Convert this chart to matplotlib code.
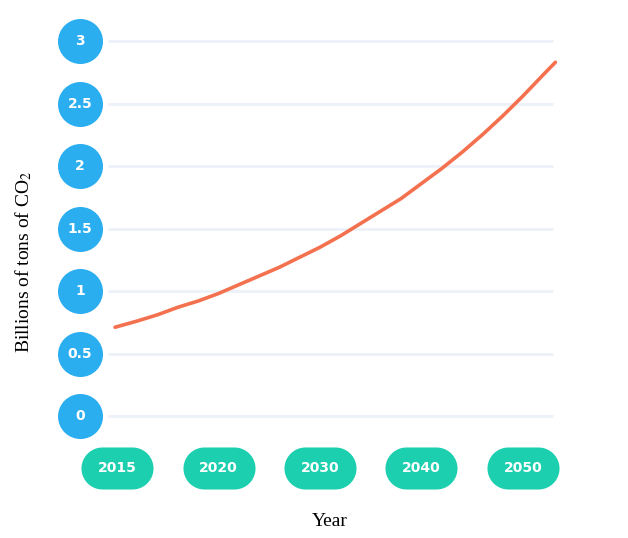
import numpy as np
import matplotlib
matplotlib.use("Agg")
import matplotlib.pyplot as plt
from matplotlib.path import Path
import matplotlib.transforms as mtransforms

# data
years = ["2015", "2020", "2030", "2040", "2050"]
y_ticks = [0, 0.5, 1, 1.5, 2, 2.5, 3]
y_tick_labels = ["0", "0.5", "1", "1.5", "2", "2.5", "3"]
# curve, x in category units (0 = 2015 pill ... 4 = 2050 pill)
curve_x = [-0.02, 0.2, 0.4, 0.6, 0.8, 1.0, 1.2, 1.4, 1.6, 1.8, 2.0, 2.2,
           2.4, 2.6, 2.8, 3.0, 3.2, 3.4, 3.6, 3.8, 4.0, 4.2, 4.32]
curve_y = [0.71, 0.76, 0.81, 0.87, 0.92, 0.98, 1.05, 1.12, 1.19, 1.27, 1.35, 1.44,
           1.54, 1.64, 1.74, 1.86, 1.98, 2.11, 2.25, 2.40, 2.56, 2.73, 2.83]

blue = "#2BAEF0"
teal = "#1CCFAF"
orange = "#F4714F"

plt.rcParams["mathtext.fontset"] = "stix"

W, H = 628, 538
fig = plt.figure(figsize=(W / 100, H / 100), dpi=100)
fig.patch.set_facecolor("white")
# axes placed in pixel terms
left, right, top, bottom = 108, 560, 30, 430
ax = fig.add_axes([left / W, 1 - bottom / H, (right - left) / W, (bottom - top) / H])
ax.set_xlim(-0.089, 4.365)
ax.set_ylim(-0.112, 3.088)
for s in ax.spines.values():
    s.set_visible(False)
ax.set_xticks([])
ax.set_yticks([])

# light gridlines
for v in y_ticks:
    ax.plot([-0.089, 4.3], [v, v], color="#EDF2F9", lw=2, zorder=1, solid_capstyle="butt")

ax.plot(curve_x, curve_y, color=orange, lw=2.6, zorder=3,
        solid_capstyle="round", solid_joinstyle="round")

# y tick circles
ytrans = mtransforms.blended_transform_factory(ax.transAxes, ax.transData)
circ_x = (80 - left) / (right - left)
ax.scatter([circ_x] * len(y_ticks), y_ticks, s=1050, color=blue, transform=ytrans,
           clip_on=False, zorder=4, linewidths=0)
for v, lab in zip(y_ticks, y_tick_labels):
    ax.text(circ_x, v, lab, transform=ytrans, ha="center", va="center", color="white",
            fontsize=10, fontweight="bold", zorder=5)

# x tick pills (stadium marker)
a, b = 0.5, 0.5 * 42 / 72
r = b
t1 = np.linspace(-np.pi / 2, np.pi / 2, 30)
t2 = np.linspace(np.pi / 2, 3 * np.pi / 2, 30)
vx = np.concatenate([(a - r) + r * np.cos(t1), -(a - r) + r * np.cos(t2)])
vy = np.concatenate([r * np.sin(t1), r * np.sin(t2)])
verts = np.column_stack([vx, vy])
verts = np.vstack([verts, verts[:1]])
codes = [Path.MOVETO] + [Path.LINETO] * (len(verts) - 2) + [Path.CLOSEPOLY]
pill = Path(verts, codes)

xtrans = mtransforms.blended_transform_factory(ax.transData, ax.transAxes)
pill_y = (bottom - 468) / (bottom - top)
xs = np.arange(len(years))
ax.scatter(xs, [pill_y] * len(years), marker=pill, s=(72 * 0.72) ** 2, color=teal,
           transform=xtrans, clip_on=False, zorder=4, linewidths=0)
for i, lab in zip(xs, years):
    ax.text(i, pill_y, lab, transform=xtrans, ha="center", va="center", color="white",
            fontsize=10, fontweight="bold", zorder=5)

ax.set_ylabel("Billions of tons of CO$_2$", fontsize=14, family="Liberation Serif")
ax.yaxis.set_label_coords((34 - left) / (right - left), (bottom - 262) / (bottom - top))
ax.set_xlabel("Year", fontsize=14, family="Liberation Serif")
ax.xaxis.set_label_coords(0.49, (bottom - 513) / (bottom - top))

fig.savefig("out.png", dpi=100, facecolor="white")
